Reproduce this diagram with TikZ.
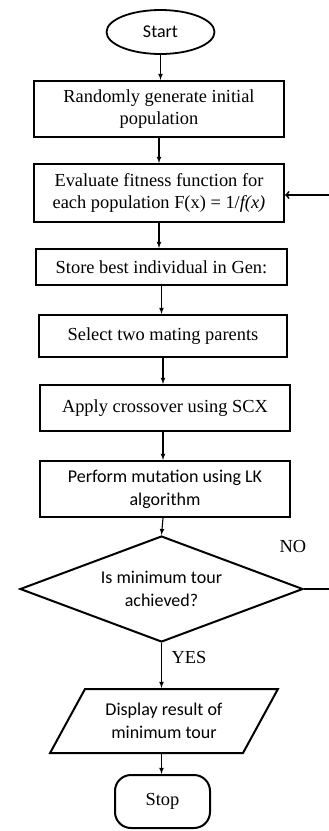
\documentclass[tikz,border=0pt]{standalone}
\usepackage{fontspec}
\setmainfont{Liberation Serif}
\newfontfamily\calibri{Carlito}
\usetikzlibrary{shapes}
\usetikzlibrary{arrows}
\usetikzlibrary{calc}
\def\sanstext{\calibri\fontsize{18}{23}\selectfont}

\begin{document}
\begin{tikzpicture}[x=1pt,y=-1pt,every node/.style={font=\fontsize{18.4}{22}\selectfont,align=center},
procbox/.style={draw,line width=2pt,inner sep=0pt},
decision/.style={draw,diamond,line width=2pt,shape aspect=2.67,minimum width=283,minimum height=106,inner sep=0pt,font=\sanstext},
io/.style={draw,trapezium,trapezium left angle=54,trapezium right angle=126,trapezium stretches=true,line width=2pt,minimum width=228,minimum height=64,inner sep=0pt,font=\sanstext},
flow/.style={-latex,line width=1.1pt}]
\clip (0,0) rectangle (329,831);
\node[draw,ellipse,line width=1.8pt,minimum width=108,minimum height=44,inner sep=0pt,font=\sanstext] (start) at (160.5,32) {Start};
\node[procbox,minimum width=250,minimum height=56] (init) at (159,109) {Randomly generate initial\\population};
\node[procbox,minimum width=250,minimum height=58] (eval) at (159,193) {Evaluate fitness function for\\each population F(x) = 1/\textit{f(x)}};
\node[procbox,minimum width=251,minimum height=36] (store) at (161.5,267) {Store best individual in Gen:};
\node[procbox,minimum width=248,minimum height=42] (select) at (163,336) {Select two mating parents};
\node[procbox,minimum width=250,minimum height=46] (apply) at (165,408) {Apply crossover using SCX};
\node[procbox,minimum width=250,minimum height=56,font=\sanstext] (mutate) at (165,489) {Perform mutation using LK\\algorithm};
\node[decision] (check) at (161.5,589) {Is minimum tour\\achieved?};
\node[io] (show) at (164,721) {Display result of\\minimum tour};
\node[draw,rounded corners=16,line width=2pt,minimum width=95,minimum height=53] (stop) at (162.5,801.5) {Stop};
\node (no) at (293,546) {NO};
\node (yes) at (189,657) {YES};
\draw[flow] (start.south) -- (start.south |- init.north);
\draw[flow] (init.south) -- (init.south |- eval.north);
\draw[flow] (eval.south) -- (eval.south |- store.north);
\draw[flow] (store.south) -- (store.south |- select.north);
\draw[flow] (select.south) -- (select.south |- apply.north);
\draw[flow] ($(apply.south)+(-2,0)$) -- ($(apply.south |- mutate.north)+(-2,0)$);
\draw[flow] ($(mutate.south)+(-2,0)$) -- (check.north);
\draw[flow] (check.south) -- (check.south |- show.north);
\draw[flow] (check.south |- show.south) -- (check.south |- stop.north);
\draw[-to,line width=1.8pt] (check.east) -- ++(40,0) |- ($(eval.east)+(0,2)$);
\end{tikzpicture}
\end{document}
